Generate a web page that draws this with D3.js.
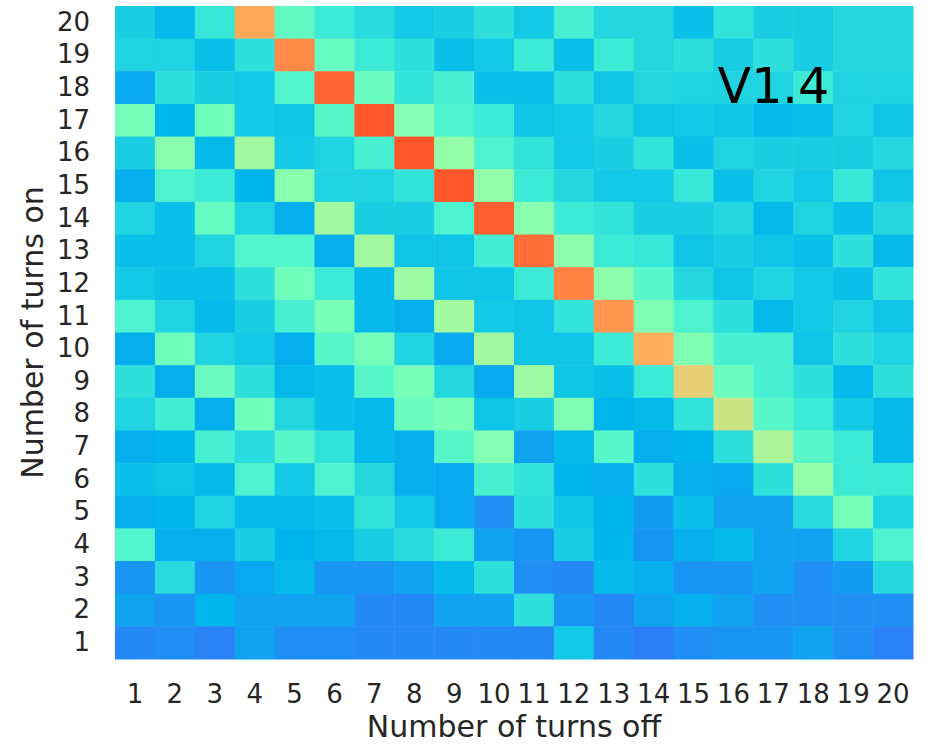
<!DOCTYPE html>
<html>
<head>
<meta charset="utf-8">
<script src="https://cdn.jsdelivr.net/npm/d3@7"></script>
<style>
  body { margin: 0; background: #fff; }
  svg { display: block; }
  text { font-family: "DejaVu Sans", sans-serif; fill: #262626; }
</style>
</head>
<body>
<div id="chart"></div>
<script>
// tick labels
var turnsOff = d3.range(1, 21)
var turnsOn = d3.range(1, 21)

// cell values (colour position 0..1), one row per "turns on", listed from 20 down to 1
var values = [
  [0.30,0.26,0.36,0.77,0.44,0.37,0.33,0.29,0.30,0.34,0.29,0.39,0.32,0.32,0.27,0.35,0.30,0.30,0.32,0.32],
  [0.31,0.31,0.27,0.34,0.82,0.45,0.37,0.34,0.27,0.29,0.37,0.27,0.37,0.32,0.34,0.30,0.34,0.30,0.32,0.32],
  [0.23,0.34,0.30,0.29,0.41,0.87,0.46,0.35,0.39,0.27,0.27,0.34,0.28,0.32,0.31,0.31,0.31,0.37,0.31,0.31],
  [0.48,0.25,0.47,0.29,0.28,0.42,0.89,0.51,0.40,0.37,0.28,0.29,0.32,0.28,0.29,0.28,0.26,0.27,0.31,0.28],
  [0.30,0.52,0.26,0.57,0.29,0.31,0.39,0.89,0.54,0.40,0.35,0.29,0.30,0.35,0.27,0.31,0.30,0.30,0.30,0.32],
  [0.24,0.40,0.37,0.25,0.52,0.31,0.31,0.35,0.89,0.54,0.37,0.32,0.29,0.29,0.36,0.27,0.31,0.29,0.36,0.28],
  [0.31,0.27,0.45,0.31,0.24,0.57,0.30,0.30,0.40,0.88,0.52,0.37,0.35,0.30,0.30,0.32,0.26,0.31,0.27,0.32],
  [0.27,0.27,0.31,0.41,0.41,0.24,0.57,0.28,0.28,0.38,0.86,0.53,0.37,0.36,0.28,0.30,0.28,0.27,0.34,0.26],
  [0.29,0.27,0.27,0.34,0.47,0.37,0.26,0.56,0.28,0.28,0.37,0.83,0.53,0.42,0.32,0.28,0.31,0.29,0.27,0.35],
  [0.40,0.31,0.26,0.30,0.39,0.49,0.26,0.24,0.57,0.29,0.28,0.35,0.80,0.50,0.40,0.34,0.26,0.29,0.31,0.28],
  [0.24,0.47,0.31,0.29,0.24,0.42,0.48,0.31,0.23,0.57,0.28,0.28,0.37,0.76,0.50,0.39,0.39,0.28,0.34,0.31],
  [0.34,0.24,0.46,0.34,0.26,0.27,0.42,0.48,0.32,0.23,0.56,0.28,0.27,0.37,0.70,0.46,0.39,0.34,0.26,0.34],
  [0.31,0.38,0.24,0.47,0.32,0.27,0.26,0.46,0.49,0.28,0.30,0.50,0.25,0.26,0.35,0.65,0.42,0.37,0.29,0.26],
  [0.24,0.25,0.39,0.33,0.42,0.35,0.26,0.24,0.42,0.51,0.22,0.26,0.42,0.24,0.25,0.34,0.59,0.42,0.37,0.26],
  [0.27,0.28,0.26,0.40,0.29,0.40,0.32,0.24,0.23,0.39,0.35,0.25,0.24,0.34,0.24,0.23,0.34,0.54,0.37,0.37],
  [0.24,0.25,0.31,0.26,0.26,0.27,0.35,0.29,0.23,0.19,0.34,0.28,0.25,0.21,0.27,0.22,0.22,0.33,0.48,0.31],
  [0.41,0.24,0.24,0.30,0.25,0.26,0.30,0.33,0.37,0.22,0.20,0.30,0.25,0.20,0.24,0.26,0.22,0.22,0.31,0.40],
  [0.20,0.33,0.20,0.23,0.26,0.20,0.20,0.22,0.26,0.34,0.19,0.18,0.26,0.24,0.20,0.20,0.22,0.19,0.21,0.32],
  [0.22,0.20,0.25,0.22,0.22,0.22,0.18,0.18,0.22,0.22,0.34,0.20,0.18,0.22,0.24,0.22,0.19,0.19,0.19,0.19],
  [0.18,0.19,0.17,0.22,0.19,0.19,0.18,0.18,0.18,0.18,0.18,0.29,0.18,0.165,0.19,0.20,0.20,0.22,0.19,0.17]
]

var version = "V1.4"

var margin = {top: 6, right: 19, bottom: 85, left: 115},
    width = 932 - margin.left - margin.right,
    height = 744 - margin.top - margin.bottom;

// matplotlib "rainbow" colormap
function rainbow(t) {
  var r = Math.min(1, Math.abs(2 * t - 0.5)),
      g = Math.sin(Math.PI * t),
      b = Math.cos(Math.PI * t / 2);
  return d3.rgb(r * 255, g * 255, b * 255).toString();
}
var color = d3.scaleSequential(rainbow).domain([0, 1]);

var cells = []
values.forEach(function (row, i) {
  var on = turnsOn[turnsOn.length - 1 - i]
  row.forEach(function (v, j) {
    cells.push({off: turnsOff[j], on: on, value: v})
  })
})

var svg = d3.select("#chart")
  .append("svg")
  .attr("width", 932)
  .attr("height", 744)
  .append("g")
  .attr("transform", "translate(" + margin.left + "," + margin.top + ")");

var x = d3.scaleBand()
  .domain(turnsOff)
  .range([0, width]);

var y = d3.scaleBand()
  .domain(turnsOn.slice().reverse())
  .range([0, height]);

svg.append("g")
  .selectAll("rect")
  .data(cells)
  .enter()
  .append("rect")
    .attr("x", function (d) { return x(d.off); })
    .attr("y", function (d) { return y(d.on); })
    .attr("width", x.bandwidth() + 0.5)
    .attr("height", y.bandwidth() + 0.5)
    .attr("fill", function (d) { return color(d.value); });

// x axis
var xAxis = svg.append("g")
  .attr("transform", "translate(0," + height + ")")
  .call(d3.axisBottom(x).tickSize(0).tickPadding(26));
xAxis.select(".domain").remove();
xAxis.selectAll("text")
  .style("font-size", "26px")
  .attr("fill", "#262626");

// y axis
var yAxis = svg.append("g")
  .call(d3.axisLeft(y).tickSize(0).tickPadding(25));
yAxis.select(".domain").remove();
yAxis.selectAll("text")
  .style("font-size", "26px")
  .attr("fill", "#262626");

// axis titles
svg.append("text")
  .attr("x", width / 2)
  .attr("y", height + 78)
  .attr("text-anchor", "middle")
  .style("font-size", "30px")
  .text("Number of turns off");

svg.append("text")
  .attr("transform", "translate(" + (43 - margin.left) + "," + (height / 2) + ") rotate(-90)")
  .attr("text-anchor", "middle")
  .style("font-size", "30px")
  .text("Number of turns on");

// version label
svg.append("text")
  .attr("x", x(17) + x.bandwidth() / 2)
  .attr("y", y(18) + y.bandwidth() * 0.97)
  .attr("text-anchor", "middle")
  .style("font-size", "49px")
  .style("fill", "#000")
  .text(version);
</script>
</body>
</html>
